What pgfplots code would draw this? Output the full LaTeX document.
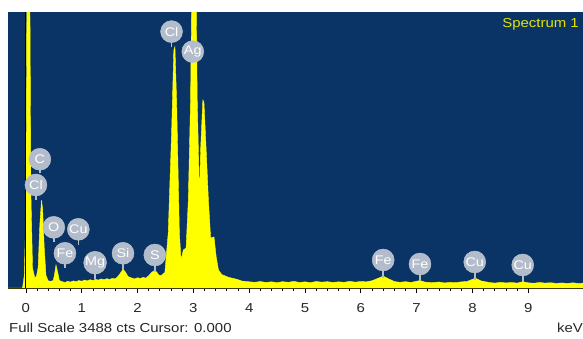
\documentclass[border=0pt]{standalone}
\usepackage{fontspec}
\setmainfont{Liberation Sans}
\newfontfamily\wfont[FakeStretch=1.15]{Liberation Sans}
\usepackage{pgfplots}
\pgfplotsset{compat=1.18}
\definecolor{specblue}{RGB}{10,52,102}
\definecolor{lblgray}{RGB}{178,188,202}
\definecolor{spyellow}{RGB}{255,255,0}
\definecolor{sptext}{RGB}{228,228,0}
\newcommand{\el}[4]{%
  \draw[lblgray, line width=1.6pt] (axis cs:#1,#2) -- (axis cs:#1,#3);
  \node[circle, fill=lblgray, draw=lblgray!80!white, inner sep=0pt, minimum size=22pt, text=white, font=\wfont\fontsize{12.5}{13}\selectfont] at (axis cs:#1,#2) {#4};}
\begin{document}
\begin{tikzpicture}
\useasboundingbox (-8pt,-50pt) rectangle (575pt,12pt+276pt);
\begin{axis}[
  scale only axis,
  width=575pt, height=276pt,
  xmin=-0.32, xmax=9.98,
  ymin=0, ymax=3488,
  axis background/.style={fill=specblue},
  axis x line=bottom, axis y line=none,
  x axis line style={-, black, line width=0.8pt},
  xtick={0,1,2,3,4,5,6,7,8,9},
  minor x tick num=4,
  tick align=outside,
  major tick length=5pt, minor tick length=3pt,
  tick style={black, line width=0.7pt},
  xticklabel style={font=\wfont\fontsize{13}{14}\selectfont, text=black!85, yshift=-7pt},
  /pgf/number format/assume math mode=true,
  clip=true,
]
\addplot[draw=spyellow, fill=spyellow, line width=0.4pt] coordinates {
(-0.32,0) (-0.06,0) (-0.03,150) (0.0,900) (0.02,4000) (0.07,4000) (0.09,1200) (0.12,250) (0.16,130)
(0.19,150) (0.22,260) (0.25,800) (0.28,1110) (0.30,1000) (0.33,500) (0.36,160) (0.40,90) (0.45,85)
(0.49,95) (0.51,160) (0.54,290) (0.57,200) (0.60,95) (0.65,80)
(0.7,70) (0.75,85) (0.8,75) (0.85,90) (0.9,80) (0.95,95) (1.0,85) (1.05,100) (1.1,90) (1.15,105)
(1.2,95) (1.25,110) (1.3,100) (1.35,115) (1.4,105) (1.45,118) (1.5,108) (1.55,122) (1.6,115)
(1.65,145) (1.7,195) (1.74,235) (1.78,205) (1.83,145) (1.9,125) (1.95,115) (2.0,130) (2.05,120)
(2.1,135) (2.15,125) (2.2,155) (2.25,195) (2.3,220) (2.34,205) (2.38,165) (2.42,155) (2.46,180)
(2.49,195) (2.55,695) (2.61,1959) (2.65,3008) (2.67,3050) (2.70,2376) (2.75,695) (2.78,354)
(2.82,480) (2.87,506) (2.91,1112) (2.95,2376) (2.975,4000) (3.045,4000) (3.07,2376) (3.11,1150)
(3.13,1744) (3.17,2376) (3.19,2351) (3.23,1744) (3.27,1112) (3.31,632) (3.37,645) (3.41,392)
(3.45,228) (3.51,170) (3.63,135) (3.78,110) (3.87,88) (4.01,78)
(4.1,72) (4.2,82) (4.3,70) (4.4,78) (4.5,68) (4.6,80) (4.7,72) (4.8,84) (4.9,70) (5.0,78)
(5.1,68) (5.2,82) (5.3,74) (5.4,80) (5.5,70) (5.6,78) (5.7,72) (5.8,84) (5.9,74) (6.0,82)
(6.1,78) (6.2,92) (6.3,120) (6.4,150) (6.5,115) (6.6,82) (6.7,72) (6.8,80) (6.9,70) (7.0,86)
(7.06,95) (7.15,74) (7.3,68) (7.4,76) (7.5,64) (7.6,72) (7.7,67) (7.8,78) (7.9,82) (8.0,110)
(8.05,125) (8.15,90) (8.3,70) (8.4,62) (8.5,72) (8.6,64) (8.7,70) (8.8,62) (8.9,80) (9.0,66)
(9.1,60) (9.2,70) (9.3,62) (9.4,67) (9.5,58) (9.6,64) (9.7,58) (9.8,66) (9.9,57) (9.98,62) (9.98,0)
} -- cycle;
\addplot[black, line width=0.9pt] coordinates {(0,0) (0,3488)};
\el{0.25}{1627}{1454}{C}
\el{0.18}{1302}{1112}{Cl}
\el{0.50}{767}{585}{O}
\el{0.94}{742}{543}{Cu}
\el{0.70}{439}{253}{Fe}
\el{1.24}{320}{114}{Mg}
\el{1.74}{439}{228}{Si}
\el{2.31}{417}{206}{S}
\el{2.61}{3240}{3050}{Cl}
\el{2.99}{2987}{2844}{Ag}
\el{6.40}{354}{126}{Fe}
\el{7.06}{303}{101}{Fe}
\el{8.04}{329}{101}{Cu}
\el{8.90}{291}{76}{Cu}
\node[anchor=north east, text=sptext, font=\wfont\fontsize{13}{14}\selectfont, inner sep=0pt] at (rel axis cs:1,1) [xshift=-4pt, yshift=-6pt] {Spectrum 1};
\end{axis}
\node[anchor=west, inner sep=0pt, font=\wfont\fontsize{13}{14}\selectfont, text=black!85] at (1pt,-40pt) {Full Scale 3488 cts Cursor: 0.000};
\node[anchor=east, inner sep=0pt, font=\wfont\fontsize{13}{14}\selectfont, text=black!85] at (575pt,-40pt) {keV};
\end{tikzpicture}
\end{document}
